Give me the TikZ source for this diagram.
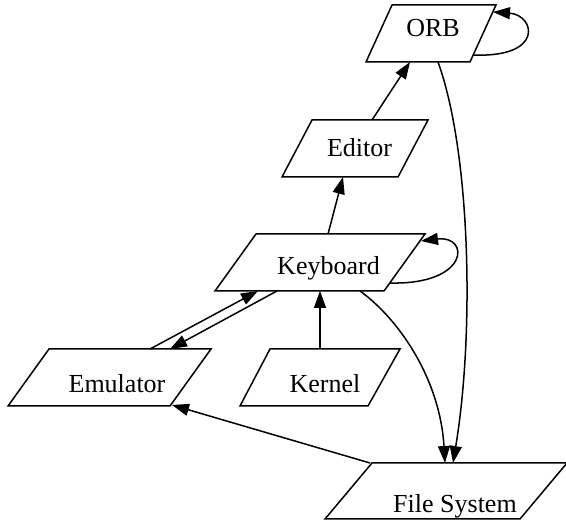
\documentclass[tikz,border=0pt]{standalone}
\usepackage{fontspec}
\setmainfont{Liberation Serif}
\usetikzlibrary{arrows.meta}
\begin{document}
\begin{tikzpicture}[x=1pt,y=-1pt,
  pbox/.style={draw, line width=1.5pt, line join=miter},
  edge/.style={line width=1.5pt, -{Triangle[length=17pt,width=12pt]}},
  lbl/.style={font=\fontsize{26}{30}\selectfont, anchor=base, inner sep=0pt}]
\useasboundingbox (0,0) rectangle (566,521);
% parallelograms
\draw[pbox] (366,62) -- (470,62) -- (496,5) -- (392,5) -- cycle;
\draw[pbox] (282,177) -- (398,177) -- (428,120) -- (312,120) -- cycle;
\draw[pbox] (215,291) -- (384,291) -- (425,234) -- (256,234) -- cycle;
\draw[pbox] (8,406) -- (170,406) -- (211,349) -- (49,349) -- cycle;
\draw[pbox] (240,406) -- (368,406) -- (400,349) -- (270,349) -- cycle;
\draw[pbox] (325,519) -- (520,519) -- (567,463) -- (372,463) -- cycle;
% labels
\node[lbl] (orb) at (433,37) {ORB};
\node[lbl] (editor) at (359.5,157) {Editor};
\node[lbl] (keyboard) at (328.5,275) {Keyboard};
\node[lbl] (emulator) at (117,393) {Emulator};
\node[lbl] (kernel) at (325,393) {Kernel};
\node[lbl] (fs) at (455,513) {File System};
% connector end points
\coordinate (orbS1) at (410,62);
\coordinate (orbS2) at (438,62);
\coordinate (orbR1) at (473,55);
\coordinate (orbR2) at (493,12);
\coordinate (edN) at (372,120);
\coordinate (edS) at (343,177);
\coordinate (kbN) at (328,234);
\coordinate (kbS1) at (258,291);
\coordinate (kbS2) at (277,291);
\coordinate (kbS3) at (320,291);
\coordinate (kbS4) at (360,291);
\coordinate (kbR1) at (390,283);
\coordinate (kbR2) at (421,241);
\coordinate (emN1) at (150,349);
\coordinate (emN2) at (170,349);
\coordinate (emE) at (172,405);
\coordinate (knN) at (320,349);
\coordinate (fsN1) at (445,463);
\coordinate (fsN2) at (453,463);
\coordinate (fsNW) at (370,463);
% connectors
\draw[edge] (edN) -- (orbS1);
\draw[edge] (orbR1) .. controls (545,58) and (535,15) .. (orbR2);
\draw[edge] (orbS2) .. controls (470,150) and (475,330) .. (fsN2);
\draw[edge] (kbN) -- (edS);
\draw[edge] (kbR1) .. controls (470,285) and (470,235) .. (kbR2);
\draw[edge] (kbS4) .. controls (400,320) and (440,380) .. (fsN1);
\draw[edge] (emN1) -- (kbS1);
\draw[edge] (kbS2) -- (emN2);
\draw[edge] (knN) -- (kbS3);
\draw[edge] (fsNW) -- (emE);
\end{tikzpicture}
\end{document}
